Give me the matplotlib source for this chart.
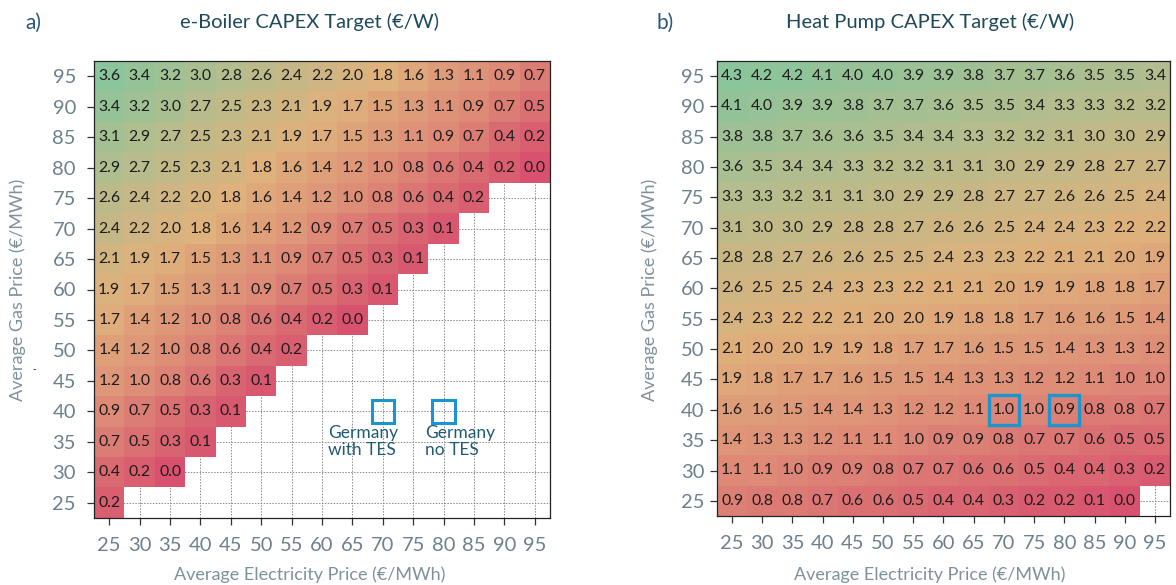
import numpy as np
import matplotlib
matplotlib.use("Agg")
import matplotlib.pyplot as plt
from matplotlib.colors import LinearSegmentedColormap
from matplotlib.patches import Rectangle

plt.rcParams['font.family'] = ['Lato', 'DejaVu Sans']

elec_prices = [25, 30, 35, 40, 45, 50, 55, 60, 65, 70, 75, 80, 85, 90, 95]
gas_prices = [95, 90, 85, 80, 75, 70, 65, 60, 55, 50, 45, 40, 35, 30, 25]

nan = np.nan
eboiler = [
    [3.6, 3.4, 3.2, 3.0, 2.8, 2.6, 2.4, 2.2, 2.0, 1.8, 1.6, 1.3, 1.1, 0.9, 0.7],
    [3.4, 3.2, 3.0, 2.7, 2.5, 2.3, 2.1, 1.9, 1.7, 1.5, 1.3, 1.1, 0.9, 0.7, 0.5],
    [3.1, 2.9, 2.7, 2.5, 2.3, 2.1, 1.9, 1.7, 1.5, 1.3, 1.1, 0.9, 0.7, 0.4, 0.2],
    [2.9, 2.7, 2.5, 2.3, 2.1, 1.8, 1.6, 1.4, 1.2, 1.0, 0.8, 0.6, 0.4, 0.2, 0.0],
    [2.6, 2.4, 2.2, 2.0, 1.8, 1.6, 1.4, 1.2, 1.0, 0.8, 0.6, 0.4, 0.2, nan, nan],
    [2.4, 2.2, 2.0, 1.8, 1.6, 1.4, 1.2, 0.9, 0.7, 0.5, 0.3, 0.1, nan, nan, nan],
    [2.1, 1.9, 1.7, 1.5, 1.3, 1.1, 0.9, 0.7, 0.5, 0.3, 0.1, nan, nan, nan, nan],
    [1.9, 1.7, 1.5, 1.3, 1.1, 0.9, 0.7, 0.5, 0.3, 0.1, nan, nan, nan, nan, nan],
    [1.7, 1.4, 1.2, 1.0, 0.8, 0.6, 0.4, 0.2, 0.0, nan, nan, nan, nan, nan, nan],
    [1.4, 1.2, 1.0, 0.8, 0.6, 0.4, 0.2, nan, nan, nan, nan, nan, nan, nan, nan],
    [1.2, 1.0, 0.8, 0.6, 0.3, 0.1, nan, nan, nan, nan, nan, nan, nan, nan, nan],
    [0.9, 0.7, 0.5, 0.3, 0.1, nan, nan, nan, nan, nan, nan, nan, nan, nan, nan],
    [0.7, 0.5, 0.3, 0.1, nan, nan, nan, nan, nan, nan, nan, nan, nan, nan, nan],
    [0.4, 0.2, 0.0, nan, nan, nan, nan, nan, nan, nan, nan, nan, nan, nan, nan],
    [0.2, nan, nan, nan, nan, nan, nan, nan, nan, nan, nan, nan, nan, nan, nan],
]
heatpump = [
    [4.3, 4.2, 4.2, 4.1, 4.0, 4.0, 3.9, 3.9, 3.8, 3.7, 3.7, 3.6, 3.5, 3.5, 3.4],
    [4.1, 4.0, 3.9, 3.9, 3.8, 3.7, 3.7, 3.6, 3.5, 3.5, 3.4, 3.3, 3.3, 3.2, 3.2],
    [3.8, 3.8, 3.7, 3.6, 3.6, 3.5, 3.4, 3.4, 3.3, 3.2, 3.2, 3.1, 3.0, 3.0, 2.9],
    [3.6, 3.5, 3.4, 3.4, 3.3, 3.2, 3.2, 3.1, 3.1, 3.0, 2.9, 2.9, 2.8, 2.7, 2.7],
    [3.3, 3.3, 3.2, 3.1, 3.1, 3.0, 2.9, 2.9, 2.8, 2.7, 2.7, 2.6, 2.6, 2.5, 2.4],
    [3.1, 3.0, 3.0, 2.9, 2.8, 2.8, 2.7, 2.6, 2.6, 2.5, 2.4, 2.4, 2.3, 2.2, 2.2],
    [2.8, 2.8, 2.7, 2.6, 2.6, 2.5, 2.5, 2.4, 2.3, 2.3, 2.2, 2.1, 2.1, 2.0, 1.9],
    [2.6, 2.5, 2.5, 2.4, 2.3, 2.3, 2.2, 2.1, 2.1, 2.0, 1.9, 1.9, 1.8, 1.8, 1.7],
    [2.4, 2.3, 2.2, 2.2, 2.1, 2.0, 2.0, 1.9, 1.8, 1.8, 1.7, 1.6, 1.6, 1.5, 1.4],
    [2.1, 2.0, 2.0, 1.9, 1.9, 1.8, 1.7, 1.7, 1.6, 1.5, 1.5, 1.4, 1.3, 1.3, 1.2],
    [1.9, 1.8, 1.7, 1.7, 1.6, 1.5, 1.5, 1.4, 1.3, 1.3, 1.2, 1.2, 1.1, 1.0, 1.0],
    [1.6, 1.6, 1.5, 1.4, 1.4, 1.3, 1.2, 1.2, 1.1, 1.0, 1.0, 0.9, 0.8, 0.8, 0.7],
    [1.4, 1.3, 1.3, 1.2, 1.1, 1.1, 1.0, 0.9, 0.9, 0.8, 0.7, 0.7, 0.6, 0.5, 0.5],
    [1.1, 1.1, 1.0, 0.9, 0.9, 0.8, 0.7, 0.7, 0.6, 0.6, 0.5, 0.4, 0.4, 0.3, 0.2],
    [0.9, 0.8, 0.8, 0.7, 0.6, 0.6, 0.5, 0.4, 0.4, 0.3, 0.2, 0.2, 0.1, 0.0, nan],
]

germany_points = [(70, 40), (80, 40)]
germany_labels = ["Germany\nwith TES", "Germany\nno TES"]

cmap = LinearSegmentedColormap.from_list(
    "capex", ["#d8526f", "#de8a77", "#e0b17c", "#b9bc8c", "#8bc59b"], N=256)
cmap.set_bad((1, 1, 1, 0))

TICK_C = "#6d808d"
LABEL_C = "#7f919d"
TITLE_C = "#1e4a5c"
BOX_C = "#1b95d2"

fig = plt.figure(figsize=(11.76, 5.85), dpi=100)

def draw(ax, data, title, letter, title_x, letter_x, ylabel_x, ypad):
    arr = np.ma.masked_invalid(np.array(data, dtype=float))
    step = 5
    ext = [elec_prices[0] - step / 2, elec_prices[-1] + step / 2,
           gas_prices[-1] - step / 2, gas_prices[0] + step / 2]
    ax.set_axisbelow(True)
    ax.grid(True, color="#8a8a8a", linestyle=(0, (1.5, 1.5)), linewidth=0.7)
    ax.imshow(arr, cmap=cmap, vmin=0, vmax=np.nanmax(np.array(data, dtype=float)),
              extent=ext, origin="upper", aspect="auto", interpolation="nearest",
              zorder=1)
    for i, g in enumerate(gas_prices):
        for j, e in enumerate(elec_prices):
            v = data[i][j]
            if not np.isnan(v):
                ax.text(e, g, f"{v:.1f}", ha="center", va="center",
                        fontsize=11.3, color="#1c1c1c", zorder=3)
    ax.set_xlim(ext[0], ext[1])
    ax.set_ylim(ext[2], ext[3])
    ax.set_xticks(elec_prices)
    ax.set_yticks(gas_prices)
    ax.tick_params(axis="both", labelsize=14.5, labelcolor=TICK_C, color="#333333",
                   length=5, width=0.9)
    ax.tick_params(axis="x", pad=9)
    ax.tick_params(axis="y", pad=ypad)
    for s in ax.spines.values():
        s.set_color("#222222")
        s.set_linewidth(0.9)
        s.set_zorder(4)
    fig.text(title_x, 1 - 22 / 585, title, ha="center", va="center",
             fontsize=14.5, color=TITLE_C)
    fig.text(letter_x, 1 - 23 / 585, letter, ha="left", va="center",
             fontsize=15, color="#2b5680")
    fig.text(title_x, 1 - 575 / 585, "Average Electricity Price (€/MWh)",
             ha="center", va="center", fontsize=13, color=LABEL_C)
    fig.text(ylabel_x, 1 - 290 / 585, "Average Gas Price (€/MWh)", rotation=90,
             ha="center", va="center", fontsize=13, color=LABEL_C)

axL = fig.add_axes([94 / 1176, 1 - 518 / 585, 456 / 1176, 457 / 585])
axR = fig.add_axes([717 / 1176, 1 - 516 / 585, 453 / 1176, 455 / 585])

draw(axL, eboiler, "e-Boiler CAPEX Target (€/W)", "a)", 310 / 1176, 25 / 1176, 18 / 1176, 8)
draw(axR, heatpump, "Heat Pump CAPEX Target (€/W)", "b)", 930 / 1176, 657 / 1176, 650 / 1176, 4)

# Germany markers on panel a (small squares in empty region)
label_x = [61.0, 77.0]
for (x, y), lab, lx in zip(germany_points, germany_labels, label_x):
    axL.add_patch(Rectangle((x - 1.85, y - 1.85), 3.7, 3.7, fill=False,
                            edgecolor=BOX_C, linewidth=2.2, zorder=5))
    axL.text(lx, y - 2.2, lab, ha="left", va="top", fontsize=12.5,
             color="#1f5b72", linespacing=1.1, zorder=5)

# Germany markers on panel b (cell outlines)
for (x, y) in germany_points:
    axR.add_patch(Rectangle((x - 2.5, y - 2.5), 5, 5, fill=False,
                            edgecolor=BOX_C, linewidth=2.4, zorder=5))

# small stray mark present in the original figure
fig.text(34 / 1176, 1 - 370 / 585, "-", ha="center", va="center",
         fontsize=7, color="#111111")

fig.savefig("out.png", dpi=100)
